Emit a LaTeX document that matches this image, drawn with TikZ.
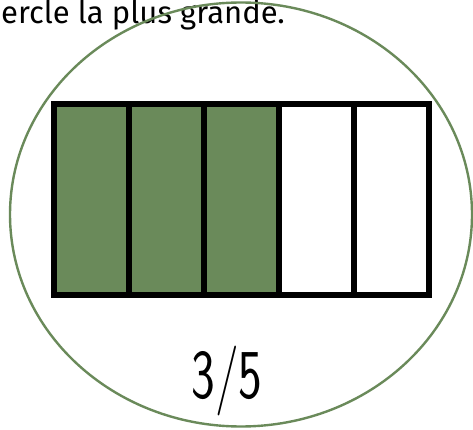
\documentclass[tikz,border=0pt]{standalone}
\usepackage{fontspec}
\usepackage{graphicx}
\setmainfont{Fira Sans}
\definecolor{leaf}{HTML}{6A8A5A}
\tikzset{
  cell/.style={draw=black,line width=6pt},
  ring/.style={draw=leaf,line width=2.4pt},
}
\begin{document}
\begin{tikzpicture}[x=1pt,y=-1pt]
\useasboundingbox (0,0) rectangle (473,430);
\node[anchor=base west,inner sep=0pt,font=\fontsize{31}{34}\selectfont] (title) at (1,24) {ercle la plus grande.};
\fill[leaf] (54,104) rectangle (279,295);
\foreach \i in {0,...,4} {
  \draw[cell] ({54+75*\i},104) rectangle ({129+75*\i},295);
}
\node[inner sep=0pt,anchor=base] (frac) at (227,398) {\scalebox{0.72}[1]{\sffamily\fontsize{70}{80}\selectfont 3/5}};
\draw[ring] (241,214.5) ellipse [x radius=231, y radius=212];
\end{tikzpicture}
\end{document}
